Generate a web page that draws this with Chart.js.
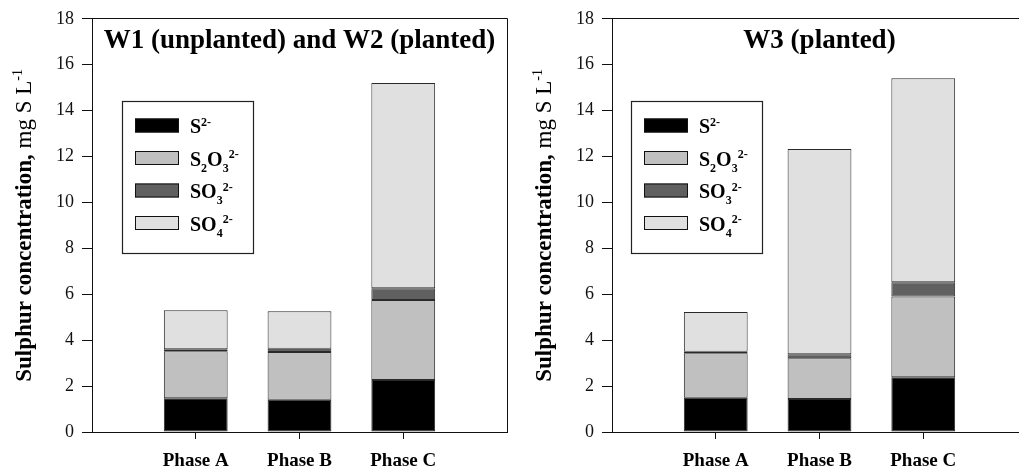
<!DOCTYPE html>
<html>
<head>
<meta charset="utf-8">
<script src="https://cdn.jsdelivr.net/npm/chart.js@4.4.1/dist/chart.umd.min.js"></script>
<style>
  html, body { margin: 0; padding: 0; background: #fff; overflow: hidden; width: 1019px; height: 470px; }
  .panel { position: absolute; top: 0; width: 520px; height: 470px; }
</style>
</head>
<body>
<div class="panel" style="left:0"><canvas id="leftChart" width="520" height="470"></canvas></div>
<div class="panel" style="left:520px"><canvas id="rightChart" width="520" height="470"></canvas></div>
<script>
// Data
const phases = ['Phase A', 'Phase B', 'Phase C'];
const seriesNames = ['S2-', 'S2O3 2-', 'SO3 2-', 'SO4 2-'];
// label pieces for legend: [text, '' | 'sub' | 'sup']
const seriesLabelParts = [
  [['S', ''], ['2-', 'sup']],
  [['S', ''], ['2', 'sub'], ['O', ''], ['3', 'sub'], ['2-', 'sup']],
  [['SO', ''], ['3', 'sub'], ['2-', 'sup']],
  [['SO', ''], ['4', 'sub'], ['2-', 'sup']]
];
const yTickMin = 0;
const yTickMax = 18;
const yTickStep = 2;

// W1 (unplanted) and W2 (planted)
const w12Sulfide = [1.47, 1.41, 2.26];
const w12Thiosulfate = [2.05, 2.08, 3.49];
const w12Sulfite = [0.08, 0.14, 0.51];
const w12Sulfate = [1.70, 1.63, 8.94];

// W3 (planted)
const w3Sulfide = [1.49, 1.44, 2.39];
const w3Thiosulfate = [1.94, 1.77, 3.51];
const w3Sulfite = [0.07, 0.18, 0.62];
const w3Sulfate = [1.73, 8.94, 8.89];

const fillColors = ['#000000', '#c0c0c0', '#606060', '#e0e0e0'];
const serif = '"Liberation Serif", "Times New Roman", serif';

// draw text made of normal / sub / sup pieces, returns width
function drawParts(ctx, parts, x, y, size, weight, draw = true) {
  let cx = x;
  parts.forEach(([t, kind]) => {
    const s = kind ? Math.round(size * 0.62) : size;
    ctx.font = weight + ' ' + s + 'px ' + serif;
    let dy = 0;
    if (kind === 'sub') dy = size * 0.3;
    if (kind === 'sup') dy = -size * 0.36;
    if (draw) ctx.fillText(t, cx, y + dy);
    cx += ctx.measureText(t).width;
  });
  return cx - x;
}

const framePlugin = {
  id: 'frame',
  afterDraw(chart) {
    const { ctx, chartArea } = chart;
    const top = Math.round(chartArea.top - 0.5) + 0.5;
    const right = Math.round(chartArea.right - 0.5) + 0.5;
    ctx.save();
    ctx.strokeStyle = '#111';
    ctx.lineWidth = 1;
    ctx.beginPath();
    ctx.moveTo(chartArea.left, top);
    ctx.lineTo(right, top);
    ctx.lineTo(right, chartArea.bottom);
    ctx.stroke();
    ctx.restore();
  }
};

const panelTitlePlugin = {
  id: 'panelTitle',
  afterDraw(chart, args, opts) {
    const { ctx, chartArea } = chart;
    ctx.save();
    ctx.fillStyle = '#000';
    ctx.font = 'bold 27px ' + serif;
    ctx.textAlign = 'center';
    ctx.textBaseline = 'alphabetic';
    ctx.fillText(opts.text, (chartArea.left + chartArea.right) / 2, 48);
    ctx.restore();
  }
};

const yTitlePlugin = {
  id: 'yTitle',
  afterDraw(chart) {
    const { ctx, chartArea } = chart;
    const parts = [['Sulphur concentration, ', 'bold'], ['mg S L', 'normal'], ['-1', 'sup']];
    ctx.save();
    ctx.fillStyle = '#000';
    ctx.textBaseline = 'alphabetic';
    ctx.textAlign = 'left';
    ctx.translate(31, (chartArea.top + chartArea.bottom) / 2);
    ctx.rotate(-Math.PI / 2);
    const size = 23;
    let total = 0;
    parts.forEach(([t, w]) => {
      ctx.font = (w === 'sup' ? 'normal ' + Math.round(size * 0.6) : w + ' ' + size) + 'px ' + serif;
      total += ctx.measureText(t).width;
    });
    let x = -total / 2;
    parts.forEach(([t, w]) => {
      ctx.font = (w === 'sup' ? 'normal ' + Math.round(size * 0.6) : w + ' ' + size) + 'px ' + serif;
      ctx.fillText(t, x, w === 'sup' ? -size * 0.38 : 0);
      x += ctx.measureText(t).width;
    });
    ctx.restore();
  }
};

const boxLegendPlugin = {
  id: 'boxLegend',
  afterDraw(chart, args, opts) {
    const { ctx, chartArea } = chart;
    const bx = chartArea.left + opts.offsetX;
    const by = opts.top;
    ctx.save();
    ctx.fillStyle = '#fff';
    ctx.fillRect(bx, by, opts.width, opts.height);
    ctx.strokeStyle = '#222';
    ctx.lineWidth = 1.2;
    ctx.strokeRect(bx + 0.5, by + 0.5, opts.width, opts.height);
    chart.data.datasets.forEach((ds, i) => {
      const cy = by + 24.5 + i * 32.5;
      ctx.fillStyle = ds.backgroundColor;
      ctx.fillRect(bx + 13, cy - 7, 44, 14);
      ctx.strokeStyle = '#111';
      ctx.lineWidth = 1;
      ctx.strokeRect(bx + 13.5, cy - 6.5, 43, 13);
      ctx.fillStyle = '#000';
      ctx.textAlign = 'left';
      ctx.textBaseline = 'alphabetic';
      drawParts(ctx, seriesLabelParts[i], bx + 68, cy + 7.5, 20, 'bold');
    });
    ctx.restore();
  }
};

function makeChart(canvasId, title, legendOffsetX, sulfide, thiosulfate, sulfite, sulfate) {
  const series = [sulfide, thiosulfate, sulfite, sulfate];
  return new Chart(document.getElementById(canvasId), {
    type: 'bar',
    data: {
      datasets: series.map((vals, i) => ({
        label: seriesNames[i],
        data: vals.map((v, j) => ({ x: j + 1, y: v })),
        backgroundColor: fillColors[i],
        borderColor: '#2a2a2a',
        borderWidth: 1,
        borderSkipped: false,
        barPercentage: 0.615,
        categoryPercentage: 1
      }))
    },
    options: {
      responsive: false,
      animation: false,
      events: [],
      layout: { padding: { top: 14, right: 13, left: 0, bottom: 0 } },
      plugins: {
        legend: { display: false },
        tooltip: { enabled: false },
        panelTitle: { text: title },
        boxLegend: { offsetX: legendOffsetX, top: 101, width: 131, height: 152 }
      },
      scales: {
        x: {
          type: 'linear',
          stacked: true,
          min: 0,
          max: 4,
          offset: false,
          afterFit: scale => { scale.height = 38; },
          border: { display: true, color: '#111', width: 1 },
          grid: {
            offset: false,
            drawOnChartArea: false,
            drawTicks: true,
            tickLength: 7,
            tickColor: c => (c.index >= 1 && c.index <= 3) ? '#111' : 'rgba(0,0,0,0)'
          },
          ticks: {
            stepSize: 1,
            autoSkip: false,
            maxRotation: 0,
            padding: 11,
            color: '#000',
            font: { family: serif, size: 19, weight: 'bold' },
            callback: v => phases[v - 1] || ''
          }
        },
        y: {
          stacked: true,
          min: yTickMin,
          max: yTickMax,
          afterFit: scale => { scale.width = 92; },
          border: { display: true, color: '#111', width: 1 },
          grid: {
            drawOnChartArea: false,
            drawTicks: true,
            tickLength: 10,
            tickColor: '#111'
          },
          ticks: {
            stepSize: yTickStep,
            padding: 8,
            color: '#111',
            font: { family: serif, size: 18 }
          }
        }
      }
    },
    plugins: [framePlugin, panelTitlePlugin, yTitlePlugin, boxLegendPlugin]
  });
}

makeChart('leftChart', 'W1 (unplanted) and W2 (planted)', 30,
  w12Sulfide, w12Thiosulfate, w12Sulfite, w12Sulfate);
makeChart('rightChart', 'W3 (planted)', 19,
  w3Sulfide, w3Thiosulfate, w3Sulfite, w3Sulfate);
</script>
</body>
</html>
